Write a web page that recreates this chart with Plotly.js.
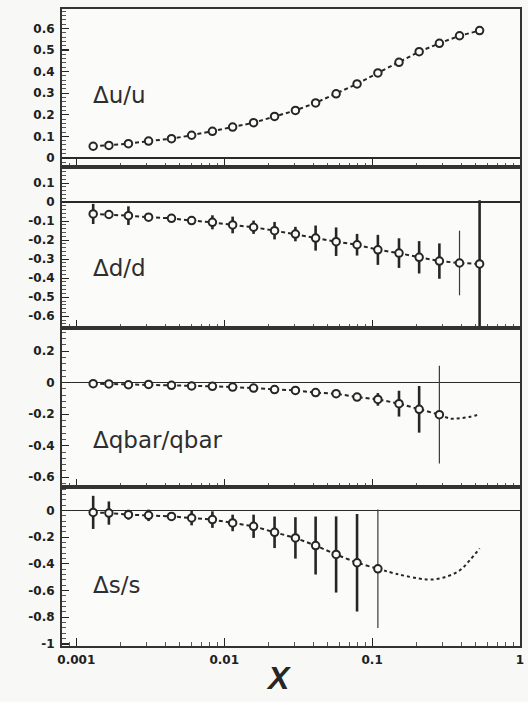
<!DOCTYPE html>
<html>
<head>
<meta charset="utf-8">
<script src="https://cdn.plot.ly/plotly-3.0.1.min.js"></script>
<style>
  html, body { margin: 0; padding: 0; background: #f8f9f6; }
  #chart { width: 528px; height: 702px; }
</style>
</head>
<body>
<div id="chart"></div>
<script>
// Bjorken-x bin centres shared by all four ratios
const xBins = [0.0013, 0.00166, 0.00225, 0.00308, 0.0044, 0.00602, 0.00832, 0.0114, 0.0158, 0.0219,
               0.0303, 0.0415, 0.0571, 0.0791, 0.1094, 0.152, 0.208, 0.285, 0.39, 0.533];

// Δu/u
const duVal = [0.054, 0.058, 0.066, 0.078, 0.089, 0.105, 0.123, 0.143, 0.163, 0.192,
               0.220, 0.255, 0.297, 0.343, 0.394, 0.443, 0.492, 0.531, 0.566, 0.590];

// Δd/d
const ddVal = [-0.062, -0.065, -0.071, -0.079, -0.085, -0.097, -0.106, -0.120, -0.132, -0.150,
               -0.168, -0.189, -0.208, -0.224, -0.251, -0.268, -0.290, -0.310, -0.320, -0.325];
const ddErr = [0.053, 0.014, 0.049, 0.014, 0.014, 0.018, 0.037, 0.044, 0.035, 0.046,
               0.038, 0.066, 0.075, 0.057, 0.079, 0.078, 0.085, 0.093, 0.170, 0.335];
const ddThin = [18];

// Δqbar/qbar
const dqVal = [-0.006, -0.008, -0.013, -0.011, -0.017, -0.021, -0.023, -0.028, -0.034, -0.044,
               -0.049, -0.063, -0.070, -0.091, -0.106, -0.133, -0.169, -0.203];
const dqErr = [0.008, 0.008, 0.008, 0.008, 0.008, 0.008, 0.008, 0.008, 0.008, 0.008,
               0.008, 0.008, 0.010, 0.020, 0.040, 0.082, 0.148, 0.310];
const dqThin = [17];
const dqCurveX = [0.285, 0.34, 0.39, 0.46, 0.533];
const dqCurveY = [-0.203, -0.228, -0.226, -0.216, -0.200];

// Δs/s
const dsVal = [-0.015, -0.020, -0.032, -0.037, -0.045, -0.057, -0.069, -0.094, -0.119, -0.164,
               -0.206, -0.263, -0.330, -0.392, -0.437];
const dsErr = [0.124, 0.087, 0.037, 0.043, 0.030, 0.055, 0.062, 0.062, 0.087, 0.118,
               0.155, 0.217, 0.285, 0.365, 0.444];
const dsThin = [14];
const dsCurveX = [0.1094, 0.152, 0.208, 0.25, 0.31, 0.39, 0.46, 0.533];
const dsCurveY = [-0.437, -0.480, -0.510, -0.518, -0.500, -0.450, -0.370, -0.285];

// Axis ticks
const yTicks1 = [0, 0.1, 0.2, 0.3, 0.4, 0.5, 0.6];
const yText1 = ['0', '0.1', '0.2', '0.3', '0.4', '0.5', '0.6'];
const yTicks2 = [0.1, 0, -0.1, -0.2, -0.3, -0.4, -0.5, -0.6];
const yText2 = ['0.1', '0', '-0.1', '-0.2', '-0.3', '-0.4', '-0.5', '-0.6'];
const yTicks3 = [0.2, 0, -0.2, -0.4, -0.6];
const yText3 = ['0.2', '0', '-0.2', '-0.4', '-0.6'];
const yTicks4 = [0, -0.2, -0.4, -0.6, -0.8, -1];
const yText4 = ['0', '-0.2', '-0.4', '-0.6', '-0.8', '-1'];
const xTicks = [0.001, 0.01, 0.1, 1];
const xText = ['0.001', '0.01', '0.1', '1'];

const labels = ['\u0394u/u', '\u0394d/d', '\u0394qbar/qbar', '\u0394s/s'];

const INK = '#262626';
const BG = '#fbfcfa';

// minor tick positions on the log axis (2..9 per decade)
const xMinor = [];
[0.0001, 0.001, 0.01, 0.1].forEach(d => {
  for (let k = 2; k <= 9; k++) xMinor.push(d * k);
});

function splitErr(err, thin) {
  const thick = err.map((e, i) => thin.includes(i) ? 0 : e);
  const fine = err.map((e, i) => thin.includes(i) ? e : 0);
  return [thick, fine];
}

const markerStyle = { symbol: 'circle', size: 7.5, color: BG, line: { color: INK, width: 2 } };
const dashLine = { color: INK, width: 2, dash: '4px,3px' };

function panelTraces(n, vals, err, thin, cx, cy) {
  const xa = n === 1 ? 'x' : 'x' + n;
  const ya = n === 1 ? 'y' : 'y' + n;
  const xs = xBins.slice(0, vals.length);
  const out = [];
  if (cx) {
    out.push({ x: cx, y: cy, xaxis: xa, yaxis: ya, mode: 'lines', type: 'scatter',
               line: { color: INK, width: 2, dash: '3px,3px', shape: 'spline' },
               hoverinfo: 'skip', showlegend: false });
  }
  if (err) {
    const [thick, fine] = splitErr(err, thin);
    out.push({ x: xs, y: vals, xaxis: xa, yaxis: ya, mode: 'markers', type: 'scatter',
               marker: { size: 8, color: 'rgba(0,0,0,0)' },
               error_y: { type: 'data', array: fine, visible: true, color: '#3a3a3a', thickness: 1.2, width: 0 },
               hoverinfo: 'skip', showlegend: false });
    out.push({ x: xs, y: vals, xaxis: xa, yaxis: ya, mode: 'lines+markers', type: 'scatter',
               line: dashLine, marker: markerStyle,
               error_y: { type: 'data', array: thick, visible: true, color: INK, thickness: 2.6, width: 0 },
               showlegend: false });
  } else {
    out.push({ x: xs, y: vals, xaxis: xa, yaxis: ya, mode: 'lines+markers', type: 'scatter',
               line: dashLine, marker: markerStyle, showlegend: false });
  }
  return out;
}

const data = [].concat(
  panelTraces(1, duVal, null, [], null, null),
  panelTraces(2, ddVal, ddErr, ddThin, null, null),
  panelTraces(3, dqVal, dqErr, dqThin, dqCurveX, dqCurveY),
  panelTraces(4, dsVal, dsErr, dsThin, dsCurveX, dsCurveY)
);

const tickFont = { family: 'DejaVu Sans', size: 12, color: '#202020', weight: 'bold' };

function xAxis(n, showLabels) {
  return {
    type: 'log', range: [Math.log10(0.0008), 0],
    anchor: n === 1 ? 'y' : 'y' + n,
    matches: n === 1 ? undefined : 'x',
    tickmode: 'array', tickvals: xTicks, ticktext: xText,
    showticklabels: showLabels, tickfont: tickFont, ticklabelstandoff: 2,
    ticks: 'inside', ticklen: 8, tickwidth: 1.2, tickcolor: INK,
    minor: { tickmode: 'array', tickvals: xMinor, ticks: 'inside', ticklen: 4, tickwidth: 1, tickcolor: '#555' },
    showline: true, linecolor: '#333', linewidth: 2, mirror: true,
    showgrid: false, zeroline: false, fixedrange: true
  };
}

function yAxis(n, range, domain, vals, text, minorStep) {
  return {
    range: range, domain: domain, anchor: n === 1 ? 'x' : 'x' + n,
    tickmode: 'array', tickvals: vals, ticktext: text, tickfont: tickFont,
    ticklabelstandoff: 3,
    ticks: 'inside', ticklen: 7, tickwidth: 1.2, tickcolor: INK,
    minor: { tickmode: 'linear', tick0: 0, dtick: minorStep, ticks: 'inside', ticklen: 3.5, tickwidth: 1, tickcolor: '#555' },
    showline: true, linecolor: '#333', linewidth: 2, mirror: true,
    showgrid: false, zeroline: true, zerolinecolor: '#2a2a2a', zerolinewidth: 1.6,
    fixedrange: true
  };
}

const ann = [
  { n: 1, y: 0.456 }, { n: 2, y: 0.373 }, { n: 3, y: 0.296 }, { n: 4, y: 0.384 }
].map((a, i) => ({
  text: labels[i], showarrow: false,
  xref: (a.n === 1 ? 'x' : 'x' + a.n) + ' domain',
  yref: (a.n === 1 ? 'y' : 'y' + a.n) + ' domain',
  x: 0.064, y: a.y, xanchor: 'left', yanchor: 'middle',
  font: { family: 'DejaVu Sans', size: 23, color: '#2e2e2e' }
}));
ann.push({
  text: 'X', showarrow: false, xref: 'paper', yref: 'paper',
  x: 0.472, y: -0.05, xanchor: 'center', yanchor: 'middle',
  font: { family: 'Liberation Sans', size: 32, color: INK, weight: 'bold', style: 'italic' }
});

const layout = {
  width: 528, height: 702,
  margin: { l: 62, r: 8, t: 9, b: 56 },
  paper_bgcolor: '#f8f9f6', plot_bgcolor: BG,
  showlegend: false,
  xaxis: xAxis(1, false),
  xaxis2: xAxis(2, false),
  xaxis3: xAxis(3, false),
  xaxis4: xAxis(4, true),
  yaxis: yAxis(1, [-0.042, 0.69], [0.752, 1], yTicks1, yText1, 0.02),
  yaxis2: yAxis(2, [-0.662, 0.185], [0.4992, 0.752], yTicks2, yText2, 0.02),
  yaxis3: yAxis(3, [-0.662, 0.347], [0.2496, 0.4992], yTicks3, yText3, 0.04),
  yaxis4: yAxis(4, [-1.015, 0.175], [0, 0.2496], yTicks4, yText4, 0.04),
  annotations: ann
};

Plotly.newPlot('chart', data, layout, { displayModeBar: false, staticPlot: true });
</script>
</body>
</html>
